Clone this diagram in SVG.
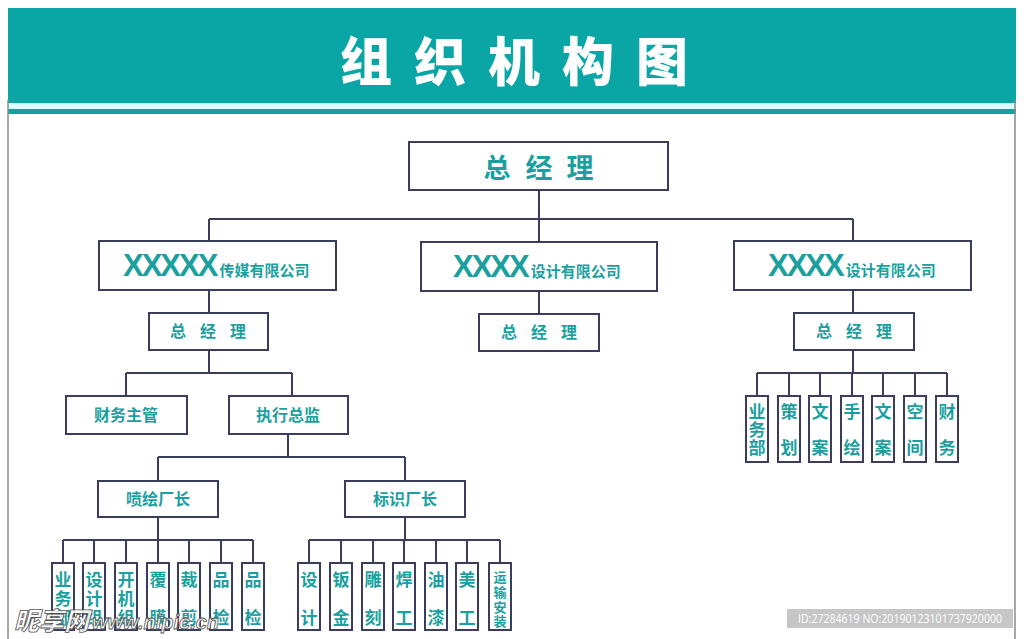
<svg xmlns="http://www.w3.org/2000/svg" width="1024" height="639" viewBox="0 0 1024 639">
<style>
.box{fill:#ffffff;stroke:#3b3d5c;stroke-width:2}
.ln{fill:none;stroke:#3b3d5c;stroke-width:2}
.t{font-family:"Noto Sans CJK SC","Noto Sans",sans-serif;font-weight:700;fill:#1c9f9f;text-anchor:middle}
.x{font-family:"Liberation Sans",Arial,sans-serif;font-weight:700;fill:#1c9f9f;font-size:31px;letter-spacing:-2px}
.c{font-family:"Noto Sans CJK SC",sans-serif;font-weight:700;fill:#1c9f9f;font-size:15px}
.s{font-size:16px}
.v{font-size:17px}
</style>
<rect x="0" y="0" width="1024" height="639" fill="#ffffff"/>
<!-- header -->
<g id="header">
<rect x="8" y="8" width="1008" height="95" fill="#0aa5a5"/>
<rect x="8" y="103" width="1008" height="6" fill="#dcfdfd"/>
<rect x="8" y="109" width="1008" height="5" fill="#17a0a0"/>
<line x1="8" y1="100" x2="8" y2="639" stroke="#8a8a8a" stroke-width="1.5"/>
<line x1="1015" y1="100" x2="1015" y2="639" stroke="#8a8a8a" stroke-width="1.5"/>
<g font-family="'Noto Sans CJK SC',sans-serif" font-weight="900" font-size="52" fill="#ffffff" text-anchor="middle">
<text x="366" y="81">组</text><text x="440" y="81">织</text><text x="514" y="81">机</text><text x="588" y="81">构</text><text x="662" y="81">图</text>
</g>
</g>
<!-- connectors -->
<g id="connectors" class="ln">
<path d="M539 191V219M209 219H853M209 219V241M539 219V242M853 219V241"/>
<path d="M209 290V313M539 291V314M853 290V313"/>
<path d="M853 350V373M757 373H947M757 373V396M789 373V396M820 373V396M852 373V396M883 373V396M915 373V396M947 373V396"/>
<path d="M209 350V373M126 373H292M126 373V396M292 373V396"/>
<path d="M288 434V457M158 457H405M158 457V481M405 457V481"/>
<path d="M158 517V540M63 540H253M63 540V563M94 540V563M126 540V563M158 540V563M189 540V563M221 540V563M253 540V563"/>
<path d="M405 517V540M309 540H500M309 540V563M341 540V563M373 540V563M404 540V563M436 540V563M467 540V563M500 540V563"/>
</g>
<!-- top -->
<g id="gm"><rect class="box" x="409" y="142" width="259" height="48"/>
<text class="t" font-size="27"><tspan x="497" y="178">总</tspan><tspan x="539" y="178">经</tspan><tspan x="580" y="178">理</tspan></text></g>
<g id="co1"><rect class="box" x="99" y="241" width="237" height="49"/>
<text x="123" y="276"><tspan class="x">XXXXX</tspan><tspan class="c" dx="3">传媒有限公司</tspan></text></g>
<g id="co2"><rect class="box" x="421" y="242" width="236" height="49"/>
<text x="453" y="277"><tspan class="x">XXXX</tspan><tspan class="c" dx="3">设计有限公司</tspan></text></g>
<g id="co3"><rect class="box" x="734" y="241" width="237" height="49"/>
<text x="768" y="276"><tspan class="x">XXXX</tspan><tspan class="c" dx="3">设计有限公司</tspan></text></g>
<g id="gm1"><rect class="box" x="149" y="313" width="119" height="37"/>
<text class="t s"><tspan x="178" y="337">总</tspan><tspan x="208" y="337">经</tspan><tspan x="238" y="337">理</tspan></text></g>
<g id="gm2"><rect class="box" x="479" y="314" width="120" height="37"/>
<text class="t s"><tspan x="509" y="338">总</tspan><tspan x="539" y="338">经</tspan><tspan x="569" y="338">理</tspan></text></g>
<g id="gm3"><rect class="box" x="794" y="313" width="120" height="37"/>
<text class="t s"><tspan x="824" y="337">总</tspan><tspan x="854" y="337">经</tspan><tspan x="884" y="337">理</tspan></text></g>
<g id="finance"><rect class="box" x="66" y="396" width="121" height="38"/><text class="t s" x="126" y="421">财务主管</text></g>
<g id="exec"><rect class="box" x="229" y="396" width="119" height="38"/><text class="t s" x="288" y="421">执行总监</text></g>
<g id="pen"><rect class="box" x="98" y="481" width="120" height="36"/><text class="t s" x="158" y="505">喷绘厂长</text></g>
<g id="biao"><rect class="box" x="345" y="481" width="120" height="36"/><text class="t s" x="405" y="505">标识厂长</text></g>
<!-- right small -->
<g id="r1"><rect class="box" x="746" y="396" width="22" height="66"/><text class="t v"><tspan x="757" y="418">业</tspan><tspan x="757" y="436">务</tspan><tspan x="757" y="454">部</tspan></text></g>
<g id="r2"><rect class="box" x="778" y="396" width="22" height="66"/><text class="t v"><tspan x="789" y="418">策</tspan><tspan x="789" y="454">划</tspan></text></g>
<g id="r3"><rect class="box" x="809" y="396" width="22" height="66"/><text class="t v"><tspan x="820" y="418">文</tspan><tspan x="820" y="454">案</tspan></text></g>
<g id="r4"><rect class="box" x="841" y="396" width="22" height="66"/><text class="t v"><tspan x="852" y="418">手</tspan><tspan x="852" y="454">绘</tspan></text></g>
<g id="r5"><rect class="box" x="872" y="396" width="22" height="66"/><text class="t v"><tspan x="883" y="418">文</tspan><tspan x="883" y="454">案</tspan></text></g>
<g id="r6"><rect class="box" x="904" y="396" width="22" height="66"/><text class="t v"><tspan x="915" y="418">空</tspan><tspan x="915" y="454">间</tspan></text></g>
<g id="r7"><rect class="box" x="936" y="396" width="22" height="66"/><text class="t v"><tspan x="947" y="418">财</tspan><tspan x="947" y="454">务</tspan></text></g>
<!-- left small -->
<g id="l1"><rect class="box" x="52" y="563" width="22" height="67"/><text class="t v"><tspan x="63" y="586">业</tspan><tspan x="63" y="605">务</tspan><tspan x="63" y="624">部</tspan></text></g>
<g id="l2"><rect class="box" x="83" y="563" width="22" height="67"/><text class="t v"><tspan x="94" y="586">设</tspan><tspan x="94" y="605">计</tspan><tspan x="94" y="624">组</tspan></text></g>
<g id="l3"><rect class="box" x="115" y="563" width="22" height="67"/><text class="t v"><tspan x="126" y="586">开</tspan><tspan x="126" y="605">机</tspan><tspan x="126" y="624">组</tspan></text></g>
<g id="l4"><rect class="box" x="147" y="563" width="22" height="67"/><text class="t v"><tspan x="158" y="586">覆</tspan><tspan x="158" y="624">膜</tspan></text></g>
<g id="l5"><rect class="box" x="178" y="563" width="22" height="67"/><text class="t v"><tspan x="189" y="586">裁</tspan><tspan x="189" y="624">剪</tspan></text></g>
<g id="l6"><rect class="box" x="210" y="563" width="22" height="67"/><text class="t v"><tspan x="221" y="586">品</tspan><tspan x="221" y="624">检</tspan></text></g>
<g id="l7"><rect class="box" x="242" y="563" width="22" height="67"/><text class="t v"><tspan x="253" y="586">品</tspan><tspan x="253" y="624">检</tspan></text></g>
<!-- middle small -->
<g id="m1"><rect class="box" x="298" y="563" width="22" height="67"/><text class="t v"><tspan x="309" y="586">设</tspan><tspan x="309" y="624">计</tspan></text></g>
<g id="m2"><rect class="box" x="330" y="563" width="22" height="67"/><text class="t v"><tspan x="341" y="586">钣</tspan><tspan x="341" y="624">金</tspan></text></g>
<g id="m3"><rect class="box" x="362" y="563" width="22" height="67"/><text class="t v"><tspan x="373" y="586">雕</tspan><tspan x="373" y="624">刻</tspan></text></g>
<g id="m4"><rect class="box" x="393" y="563" width="22" height="67"/><text class="t v"><tspan x="404" y="586">焊</tspan><tspan x="404" y="624">工</tspan></text></g>
<g id="m5"><rect class="box" x="425" y="563" width="22" height="67"/><text class="t v"><tspan x="436" y="586">油</tspan><tspan x="436" y="624">漆</tspan></text></g>
<g id="m6"><rect class="box" x="456" y="563" width="22" height="67"/><text class="t v"><tspan x="467" y="586">美</tspan><tspan x="467" y="624">工</tspan></text></g>
<g id="m7"><rect class="box" x="489" y="563" width="22" height="67"/><text class="t" font-size="13"><tspan x="500" y="582">运</tspan><tspan x="500" y="597">输</tspan><tspan x="500" y="612">安</tspan><tspan x="500" y="626">装</tspan></text></g>
<!-- watermark -->
<g id="watermark">
<text x="14" y="630" font-family="'Noto Sans CJK SC',sans-serif" font-weight="900" font-style="italic" font-size="25" fill="#ffffff" fill-opacity="0.85" stroke="#555555" stroke-width="0.8">昵享网</text>
<text x="92" y="629" font-family="'Liberation Sans',Arial,sans-serif" font-weight="700" font-style="italic" font-size="20" fill="#ffffff" fill-opacity="0.85" stroke="#555555" stroke-width="0.8">www.nipic.cn</text>
<rect x="787" y="609" width="226" height="19" fill="#c6c6c6"/>
<text x="798" y="623" font-family="'Open Sans','Liberation Sans',sans-serif" font-size="12" textLength="204" lengthAdjust="spacingAndGlyphs" fill="#ffffff">ID:27284619 NO:20190123101737920000</text>
</g>
</svg>
